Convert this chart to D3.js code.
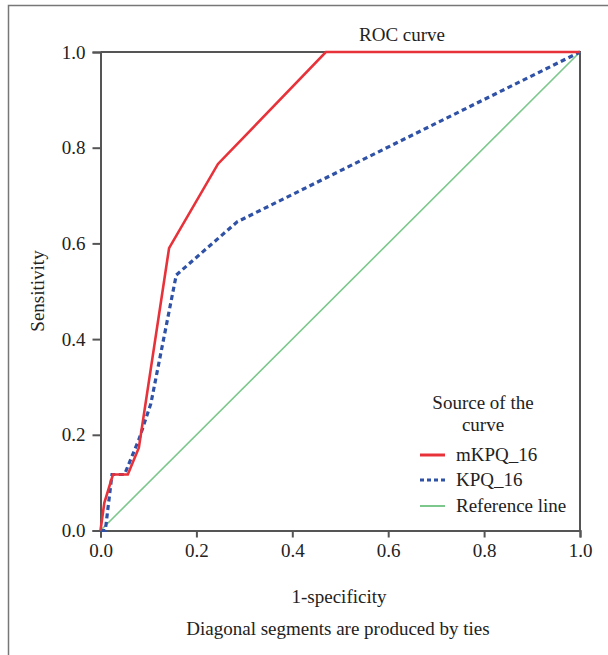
<!DOCTYPE html>
<html lang="en">
<head>
<meta charset="UTF-8" />
<title>ROC curve</title>
<script src="https://cdn.jsdelivr.net/npm/d3@7"></script>
<style>
  body { margin: 0; background: #fff; }
  text { font-family: "Liberation Serif", "DejaVu Serif", serif; fill: #222; }
</style>
</head>
<body>
<div id="chart"></div>
<script>
// 1-specificity / sensitivity pairs
const mkpqX = [0, 0.008, 0.026, 0.057, 0.08, 0.143, 0.245, 0.47, 1.0];
const mkpqY = [0, 0.058, 0.117, 0.117, 0.173, 0.59, 0.766, 1.0, 1.0];
const kpqX = [0, 0.01, 0.024, 0.05, 0.08, 0.105, 0.158, 0.285, 1.0];
const kpqY = [0, 0.0, 0.117, 0.117, 0.19, 0.265, 0.534, 0.645, 1.0];
const refX = [0, 1];
const refY = [0, 1];
const ticks = [0, 0.2, 0.4, 0.6, 0.8, 1.0];
const legendNames = ["mKPQ_16", "KPQ_16", "Reference line"];

const width = 608, height = 655;
const plotLeft = 100.5, plotRight = 580, plotTop = 52, plotBottom = 530.5;
const fs = 19;

const svg = d3.select("#chart").append("svg")
  .attr("width", width)
  .attr("height", height);

// outer frame (only top and left edges show)
svg.append("path")
  .attr("d", `M8.5,${height}V5.5H${width}`)
  .attr("fill", "none")
  .attr("stroke", "#777")
  .attr("stroke-width", 1.5);

const x = d3.scaleLinear().domain([0, 1]).range([plotLeft, plotRight]);
const y = d3.scaleLinear().domain([0, 1]).range([plotBottom, plotTop]);

// box
svg.append("path")
  .attr("d", `M${plotLeft},${plotTop}H${plotRight}V${plotBottom}`)
  .attr("fill", "none")
  .attr("stroke", "#555")
  .attr("stroke-width", 2);

const xAxis = svg.append("g")
  .attr("transform", `translate(0,${plotBottom})`)
  .call(d3.axisBottom(x).tickValues(ticks).tickFormat(d3.format(".1f")).tickSize(7).tickPadding(6));
const yAxis = svg.append("g")
  .attr("transform", `translate(${plotLeft},0)`)
  .call(d3.axisLeft(y).tickValues(ticks).tickFormat(d3.format(".1f")).tickSize(8).tickPadding(7));

[xAxis, yAxis].forEach(g => {
  g.attr("font-family", null).attr("font-size", null);
  g.select(".domain").attr("stroke", "#555").attr("stroke-width", 2);
  g.selectAll(".tick line").attr("stroke", "#555").attr("stroke-width", 2);
  g.selectAll(".tick text")
    .attr("font-size", fs)
    .attr("fill", "#222");
});

const line = d3.line().x(d => x(d[0])).y(d => y(d[1]));

const series = [
  { xs: refX, ys: refY, color: "#7cc88c", w: 1.6, dash: null },
  { xs: kpqX, ys: kpqY, color: "#2f52a6", w: 3.2, dash: "5,3.5" },
  { xs: mkpqX, ys: mkpqY, color: "#e8323a", w: 2.6, dash: null }
];

series.forEach(s => {
  svg.append("path")
    .datum(d3.zip(s.xs, s.ys))
    .attr("d", line)
    .attr("fill", "none")
    .attr("stroke", s.color)
    .attr("stroke-width", s.w)
    .attr("stroke-dasharray", s.dash);
});

// title and axis labels
svg.append("text")
  .attr("x", 402).attr("y", 41)
  .attr("text-anchor", "middle")
  .attr("font-size", fs)
  .text("ROC curve");

svg.append("text")
  .attr("x", 339).attr("y", 603)
  .attr("text-anchor", "middle")
  .attr("font-size", fs)
  .text("1-specificity");

svg.append("text")
  .attr("x", 338).attr("y", 635)
  .attr("text-anchor", "middle")
  .attr("font-size", fs)
  .text("Diagonal segments are produced by ties");

svg.append("text")
  .attr("transform", "translate(44,291) rotate(-90)")
  .attr("text-anchor", "middle")
  .attr("font-size", fs)
  .text("Sensitivity");

// legend
const legend = svg.append("g");
legend.append("text")
  .attr("x", 483).attr("y", 409)
  .attr("text-anchor", "middle")
  .attr("font-size", fs)
  .text("Source of the");
legend.append("text")
  .attr("x", 483).attr("y", 431)
  .attr("text-anchor", "middle")
  .attr("font-size", fs)
  .text("curve");

const legendStyle = [series[2], series[1], series[0]];
const legendY = [455, 480, 506];
legendNames.forEach((name, i) => {
  const s = legendStyle[i];
  legend.append("line")
    .attr("x1", 420).attr("x2", 445)
    .attr("y1", legendY[i]).attr("y2", legendY[i])
    .attr("stroke", s.color)
    .attr("stroke-width", i === 2 ? 2 : 3)
    .attr("stroke-dasharray", s.dash ? "4,3" : null);
  legend.append("text")
    .attr("x", 456).attr("y", legendY[i] + 6)
    .attr("font-size", fs)
    .text(name);
});
</script>
</body>
</html>
